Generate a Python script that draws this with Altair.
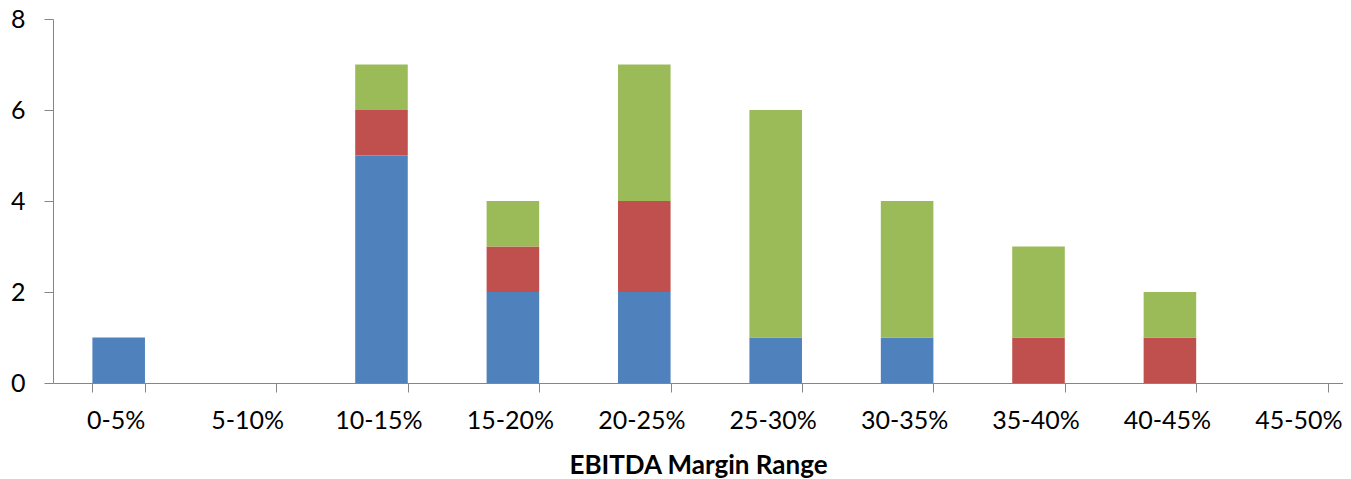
import altair as alt
import pandas as pd

categories = ["0-5%", "5-10%", "10-15%", "15-20%", "20-25%", "25-30%",
              "30-35%", "35-40%", "40-45%", "45-50%"]
series_names = ["Series 1", "Series 2", "Series 3"]
series1 = [1, 0, 5, 2, 2, 1, 1, 0, 0, 0]
series2 = [0, 0, 1, 1, 2, 0, 0, 1, 1, 0]
series3 = [0, 0, 1, 1, 3, 5, 3, 2, 1, 0]
colors = ["#4F81BD", "#C0504D", "#9BBB59"]

rows = []
for si, (name, vals) in enumerate(zip(series_names, [series1, series2, series3])):
    for c, v in zip(categories, vals):
        rows.append({"range": c, "series": name, "value": v, "order": si})
df = pd.DataFrame(rows)

FONT = "Lato"

chart = alt.Chart(df).mark_bar().encode(
    x=alt.X("range:N", sort=categories,
            scale=alt.Scale(paddingInner=0.6, paddingOuter=0.2085, align=0.719),
            axis=alt.Axis(title="EBITDA Margin Range", labelAngle=0,
                          tickBand="extent", tickSize=9, labelPadding=16,
                          labelOffset=-3,
                          domainColor="#868686", tickColor="#868686",
                          labelColor="#000000", labelFont=FONT, labelFontSize=25,
                          titleFont=FONT, titleFontSize=26, titleFontWeight="bold",
                          titleColor="#000000", titleY=90, titleBaseline="alphabetic")),
    y=alt.Y("value:Q", stack="zero",
            scale=alt.Scale(domain=[0, 8], nice=False),
            axis=alt.Axis(title=None, values=[0, 2, 4, 6, 8], grid=False,
                          tickSize=9, labelPadding=19,
                          domainColor="#868686", tickColor="#868686",
                          labelColor="#000000", labelFont=FONT, labelFontSize=25)),
    color=alt.Color("series:N", scale=alt.Scale(domain=series_names, range=colors),
                    legend=None),
    order=alt.Order("order:Q"),
).properties(
    width=1290, height=364,
    padding={"left": 45, "top": 11, "right": 0, "bottom": 96},
    autosize="none",
).configure_view(stroke=None)

chart.save("out.html", embed_options={"renderer": "svg", "actions": False})
